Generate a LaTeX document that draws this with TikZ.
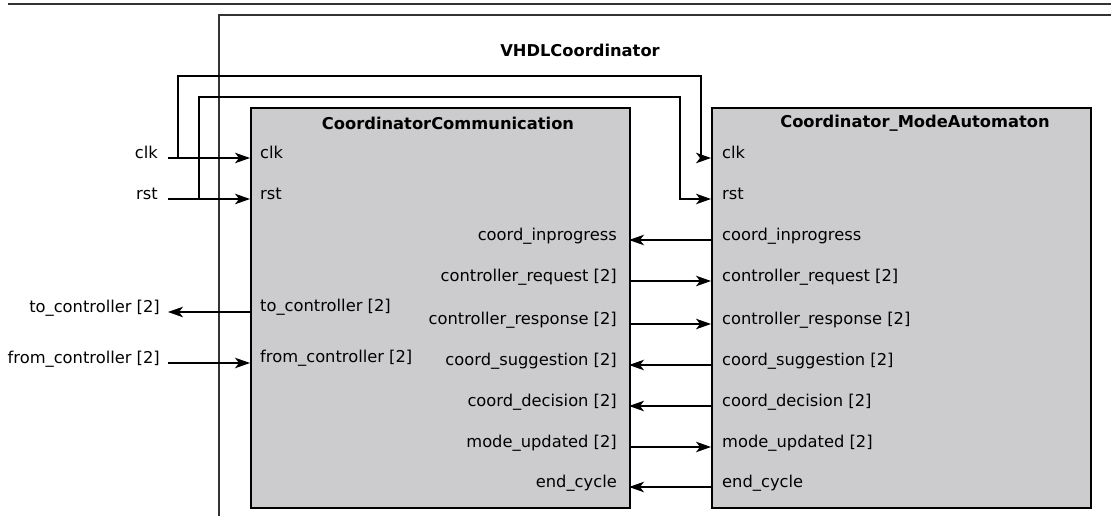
\documentclass[tikz,border=0pt]{standalone}
\usepackage{fontspec}
\setmainfont{DejaVu Sans}
\usepackage{tikz}
\usetikzlibrary{arrows.meta,positioning,calc}
\definecolor{blockgray}{RGB}{204,204,206}
\tikzset{
  hdlblock/.style={draw,fill=blockgray,line width=1.8pt,inner sep=0pt,anchor=north west,
    minimum width=379pt,minimum height=400pt},
  hdltitle/.style={font=\fontsize{16.3}{20}\selectfont\bfseries},
  frameline/.style={draw=black!80,line width=1.2pt},
  inlabel/.style={anchor=base west,inner sep=0pt,xshift=11pt},
  outlabel/.style={anchor=base east,inner sep=0pt,xshift=-12pt},
  extlabel/.style={anchor=base east,inner sep=0pt,xshift=-10pt},
  sig/.style={-{Stealth[length=15pt,width=10.5pt,inset=4pt]},line width=1.1pt}
}
\begin{document}
\begin{tikzpicture}[x=1pt,y=-1pt,font=\fontsize{16.3}{20}\selectfont]
  \useasboundingbox (0,0) rectangle (1111,516);
  % enclosing entity
  \draw[frameline] (8,4) -- (1111,4);
  \draw[frameline] (219,516) -- (219,15) -- (1111,15);
  \node[hdltitle] (top) at (580,50) {VHDLCoordinator};

  \node[hdlblock] (cc) at (250,107) {};
  \node[hdlblock] (ma) at (711,107) {};
  \node[hdltitle] (cctitle) at (448,123) {CoordinatorCommunication};
  \node[hdltitle] (matitle) at (915,123) {Coordinator\_ModeAutomaton};

  % ports of CoordinatorCommunication
  \coordinate (cclk) at (250,158);
  \coordinate (crst) at (250,199);
  \coordinate (cto) at (250,312);
  \coordinate (cfrom) at (250,363);
  \coordinate (cinp) at (629,240);
  \coordinate (creq) at (629,281);
  \coordinate (cresp) at (629,324);
  \coordinate (csug) at (629,365);
  \coordinate (cdec) at (629,406);
  \coordinate (cmode) at (629,447);
  \coordinate (cend) at (629,487);
  \node[inlabel,xshift=-1pt] (lcclk) at (cclk) {clk};
  \node[inlabel,xshift=-1pt] (lcrst) at (crst) {rst};
  \node[inlabel,xshift=-1pt,yshift=1pt] (lcto) at (cto) {to\_controller [2]};
  \node[inlabel,xshift=-1pt,yshift=1pt] (lcfrom) at (cfrom) {from\_controller [2]};
  \node[outlabel] (lcinp) at (cinp) {coord\_inprogress};
  \node[outlabel] (lcreq) at (creq) {controller\_request [2]};
  \node[outlabel] (lcresp) at (cresp) {controller\_response [2]};
  \node[outlabel] (lcsug) at (csug) {coord\_suggestion [2]};
  \node[outlabel] (lcdec) at (cdec) {coord\_decision [2]};
  \node[outlabel] (lcmode) at (cmode) {mode\_updated [2]};
  \node[outlabel] (lcend) at (cend) {end\_cycle};

  % ports of Coordinator_ModeAutomaton
  \coordinate (mclk) at (711,158);
  \coordinate (mrst) at (711,199);
  \coordinate (minp) at (711,240);
  \coordinate (mreq) at (711,281);
  \coordinate (mresp) at (711,324);
  \coordinate (msug) at (711,365);
  \coordinate (mdec) at (711,406);
  \coordinate (mmode) at (711,447);
  \coordinate (mend) at (711,487);
  \node[inlabel] (lmclk) at (mclk) {clk};
  \node[inlabel] (lmrst) at (mrst) {rst};
  \node[inlabel] (lminp) at (minp) {coord\_inprogress};
  \node[inlabel] (lmreq) at (mreq) {controller\_request [2]};
  \node[inlabel] (lmresp) at (mresp) {controller\_response [2]};
  \node[inlabel] (lmsug) at (msug) {coord\_suggestion [2]};
  \node[inlabel] (lmdec) at (mdec) {coord\_decision [2]};
  \node[inlabel] (lmmode) at (mmode) {mode\_updated [2]};
  \node[inlabel] (lmend) at (mend) {end\_cycle};

  % outer ports
  \coordinate (xclk) at (168,158);
  \coordinate (xrst) at (168,199);
  \coordinate (xto) at (168,312);
  \coordinate (xfrom) at (168,363);
  \node[extlabel] (lxclk) at (xclk) {clk};
  \node[extlabel] (lxrst) at (xrst) {rst};
  \node[extlabel,xshift=2pt] (lxto) at (xto) {to\_controller [2]};
  \node[extlabel,xshift=2pt] (lxfrom) at (xfrom) {from\_controller [2]};

  \coordinate (clktap) at (178,158);
  \coordinate (rsttap) at (199,199);
  \coordinate (clkdrop) at (701,158);
  \coordinate (rstdrop) at (680,199);

  \draw[sig] (xclk) -- (cclk);
  \draw[sig] (xrst) -- (crst);
  \draw[sig] (cto) -- (xto);
  \draw[sig] (xfrom) -- (cfrom);
  \draw[sig] (clktap) |- (clkdrop |- 0,76) -- (clkdrop) -- (mclk);
  \draw[sig] (rsttap) |- (rstdrop |- 0,97) -- (rstdrop) -- (mrst);
  \draw[sig] (minp) -- (cinp);
  \draw[sig] (creq) -- (mreq);
  \draw[sig] (cresp) -- (mresp);
  \draw[sig] (msug) -- (csug);
  \draw[sig] (mdec) -- (cdec);
  \draw[sig] (cmode) -- (mmode);
  \draw[sig] (mend) -- (cend);
\end{tikzpicture}
\end{document}
